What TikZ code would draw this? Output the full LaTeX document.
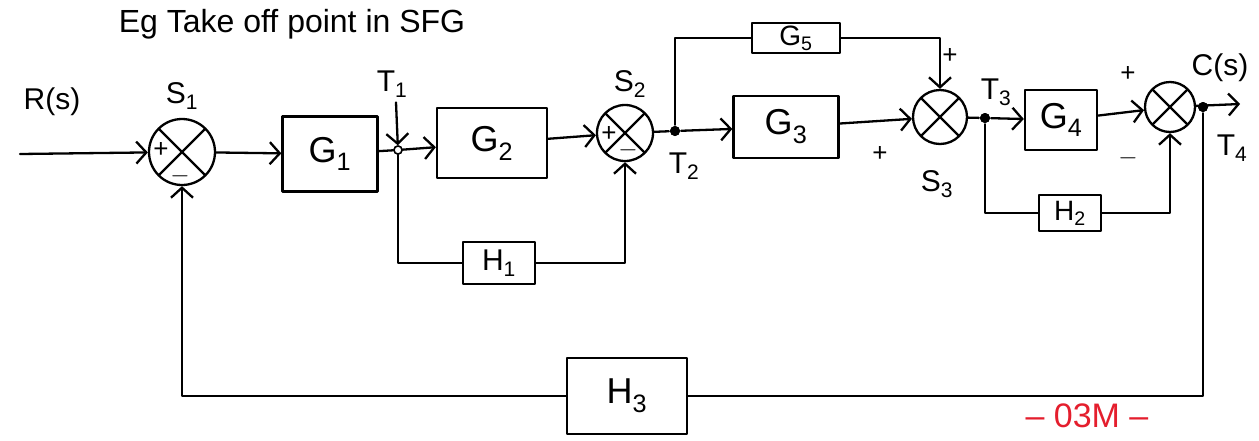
\documentclass[tikz,border=0pt]{standalone}
\usepackage{fontspec}
\setmainfont{Liberation Sans}
\usetikzlibrary{arrows.meta}
\definecolor{markred}{RGB}{228,30,45}
\newcommand{\sbs}[1]{\textsubscript{#1}}
\begin{document}
\begin{tikzpicture}[x=1pt,y=-1pt,
  line width=2.3pt, line cap=round, line join=round,
  blk/.style={draw, rectangle, inner sep=0pt, font=\fontsize{36}{40}\selectfont},
  sumx/.style={draw, circle, inner sep=0pt, minimum size=#1,
    path picture={\draw[line width=2.3pt] (path picture bounding box.north west) -- (path picture bounding box.south east)
      (path picture bounding box.north east) -- (path picture bounding box.south west);}},
  arr/.style={-{Straight Barb[length=10pt,width=22pt]}},
  lbl/.style={font=\fontsize{30}{34}\selectfont, inner sep=0pt},
  sgn/.style={font=\fontsize{26}{28}\selectfont, inner sep=0pt},
  tap/.style={circle, fill, inner sep=0pt, minimum size=10pt},
  otap/.style={circle, draw, fill=white, line width=1.5pt, inner sep=0pt, minimum size=8pt},
]
\useasboundingbox (0,0) rectangle (1259,440);

% title
\node[font=\fontsize{32}{36}\selectfont, inner sep=0pt] (title) at (292,24) {Eg Take off point in SFG};

% summing points
\node[sumx=66] (S1) at (182,152) {};
\node[sumx=56] (S2) at (625,133) {};
\node[sumx=54] (S3) at (940,117) {};
\node[sumx=50] (S4) at (1170,107) {};

% blocks
\node[blk, minimum width=95, minimum height=75] (G1) at (330,154) {G\sbs{1}};
\node[blk, minimum width=110, minimum height=70] (G2) at (492,143) {G\sbs{2}};
\node[blk, minimum width=105, minimum height=62] (G3) at (786,127) {G\sbs{3}};
\node[blk, minimum width=88, minimum height=30, font=\fontsize{28}{30}\selectfont] (G5) at (796,38) {G\sbs{5}};
\node[blk, minimum width=72, minimum height=60] (G4) at (1061,120) {G\sbs{4}};
\node[blk, minimum width=62, minimum height=36, font=\fontsize{28}{30}\selectfont] (H2) at (1070,213) {H\sbs{2}};
\node[blk, minimum width=72, minimum height=42, font=\fontsize{30}{32}\selectfont] (H1) at (499,263) {H\sbs{1}};
\node[blk, minimum width=120, minimum height=76] (H3) at (627,396) {H\sbs{3}};

% take-off points
\node[otap] (T1) at (398,150) {};
\node[tap] (T2) at (675,131) {};
\node[tap] (T3) at (985,118) {};
\node[tap] (T4) at (1203,107) {};
\coordinate (rin) at (20,154);
\coordinate (cout) at (1240,104);

% forward path
\draw[arr] (rin) -- (S1);
\draw[arr] (S1) -- (G1);
\draw (G1) -- (T1);
\draw[arr] (T1) -- (G2);
\draw[arr] (G2) -- (S2);
\draw (S2) -- (T2);
\draw[arr] (T2) -- (G3);
\draw (T2) |- (G5);
\draw[arr] (G5) -| (S3);
\draw[arr] (G3) -- (S3);
\draw (S3) -- (T3);
\draw[arr] (T3) -- (G4);
\draw[arr] (G4) -- (S4);
\draw[arr] (S4) -- (cout);

% feedback paths
\draw (T1) |- (H1);
\draw[arr] (H1) -| (S2);
\draw (T3) |- (H2);
\draw[arr] (H2) -| (S4);
\draw (T4) |- (H3);
\draw[arr] (H3) -| (S1);

% redraw take-off points on top
\node[otap] at (T1) {};
\node[tap] at (T2) {};
\node[tap] at (T3) {};
\node[tap] at (T4) {};

% labels
\node[lbl] (Rlbl) at (52,102) {R(s)};
\node[lbl] (S1lbl) at (182,96) {S\sbs{1}};
\node[lbl] (T1lbl) at (392,84) {T\sbs{1}};
\draw[arr] (T1lbl.south) ++(4,4) coordinate (t1a) (t1a) -- (T1);
\node[lbl] (S2lbl) at (630,84) {S\sbs{2}};
\node[lbl] (T2lbl) at (684,166) {T\sbs{2}};
\node[lbl] (S3lbl) at (937,184) {S\sbs{3}};
\node[lbl] (T3lbl) at (996,92) {T\sbs{3}};
\node[lbl] (Clbl) at (1220,68) {C(s)};
\node[lbl] (T4lbl) at (1232,148) {T\sbs{4}};

% signs
\node[sgn] (s1p) at (161,150) {+};
\node[sgn] (s1m) at (180,176) {$-$};
\node[sgn] (s2p) at (609,134) {+};
\node[sgn] (s2m) at (628,150) {$-$};
\node[sgn] (s3p1) at (950,56) {+};
\node[sgn] (s3p2) at (880,154) {+};
\node[sgn] (s4p) at (1128,74) {+};
\node[sgn] (s4m) at (1128,158) {$-$};

% mark
\node[font=\fontsize{34}{38}\selectfont, text=markred, inner sep=0pt] (mark) at (1087,416) {– 03M –};
\end{tikzpicture}
\end{document}
